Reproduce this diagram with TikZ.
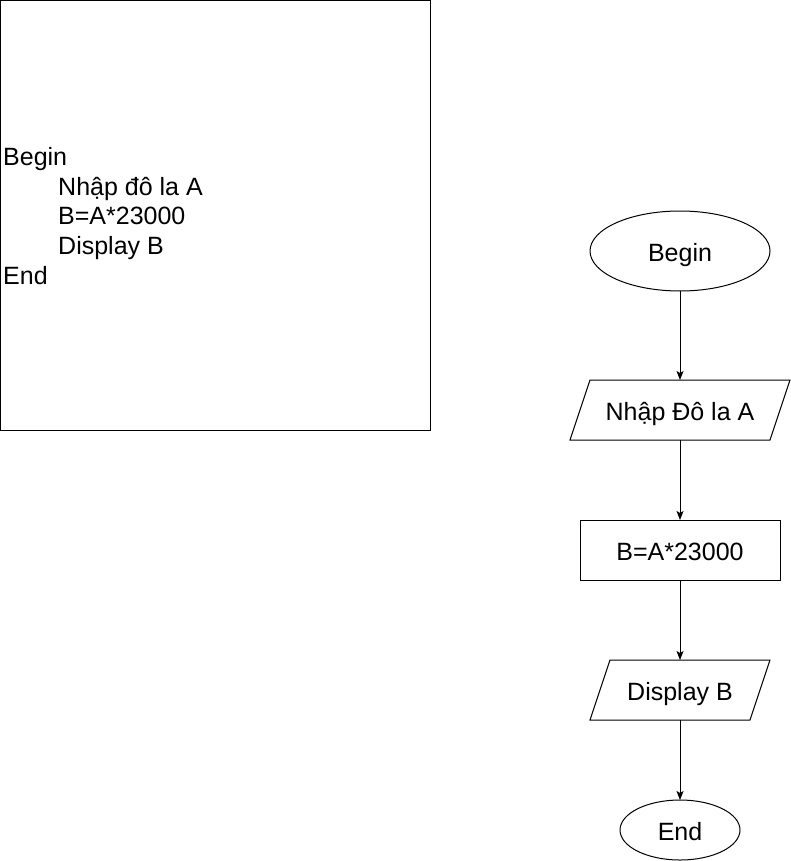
\documentclass[tikz,border=0pt]{standalone}
\usepackage{fontspec}
\setmainfont{Liberation Sans}
\usetikzlibrary{shapes.geometric, arrows, arrows.meta, positioning}
\tikzstyle{flow} = [text height=20pt, text depth=0pt, outer sep=0pt]
\tikzstyle{startstop} = [flow, draw, ellipse, line width=1pt, inner sep=0pt]
\tikzstyle{io} = [flow, rectangle, minimum height=60pt, inner sep=0pt]
\tikzstyle{slanted} = [line width=1pt]
\tikzstyle{process} = [flow, draw, rectangle, line width=1pt, minimum width=200pt, minimum height=60pt]
\tikzstyle{line} = [draw, line width=1pt, ->]

\begin{document}
\begin{tikzpicture}[x=1pt, y=1pt, >={Stealth[length=9pt, width=7pt, inset=2pt]}, font=\fontsize{25}{29.7}\selectfont]
        \useasboundingbox (0,0) rectangle (791,-861);
        % the pseudocode box on the left
        \node [draw, line width=1pt, minimum width=430pt, minimum height=430pt, anchor=north west, outer sep=0pt] (pseudo) at (0.5,-0.5) {};
        \node [anchor=west, align=left, inner sep=0pt] (code) at ([xshift=2.5pt, yshift=-0.5pt]pseudo.west) {Begin\\
            \hspace*{55pt}Nhập đô la A\\
            \hspace*{55pt}B=A*23000\\
            \hspace*{55pt}Display B\\
            End};

        % the flowchart on the right
        \node [startstop, minimum width=180pt, minimum height=80pt] (begin) at (680,-251) {Begin};
        \node [io, minimum width=200pt, below of=begin, node distance=159pt] (input) {Nhập Đô la A};
        \node [process, below of=input, node distance=140pt] (calc) {B=A*23000};
        \node [io, minimum width=160pt, below of=calc, node distance=140pt] (display) {Display B};
        \node [startstop, minimum width=120pt, minimum height=60pt, below of=display, node distance=140pt] (end) {End};

        % outlines of the two input/output boxes
        \foreach \iobox in {input, display}
            \draw [slanted] ([xshift=10pt]\iobox.north west) -- ([xshift=10pt]\iobox.north east)
                -- ([xshift=-10pt]\iobox.south east) -- ([xshift=-10pt]\iobox.south west) -- cycle;

        % connectors
        \path [line] (begin) -- (input);
        \path [line] (input) -- (calc);
        \path [line] (calc) -- (display);
        \path [line] (display) -- (end);
\end{tikzpicture}
\end{document}
